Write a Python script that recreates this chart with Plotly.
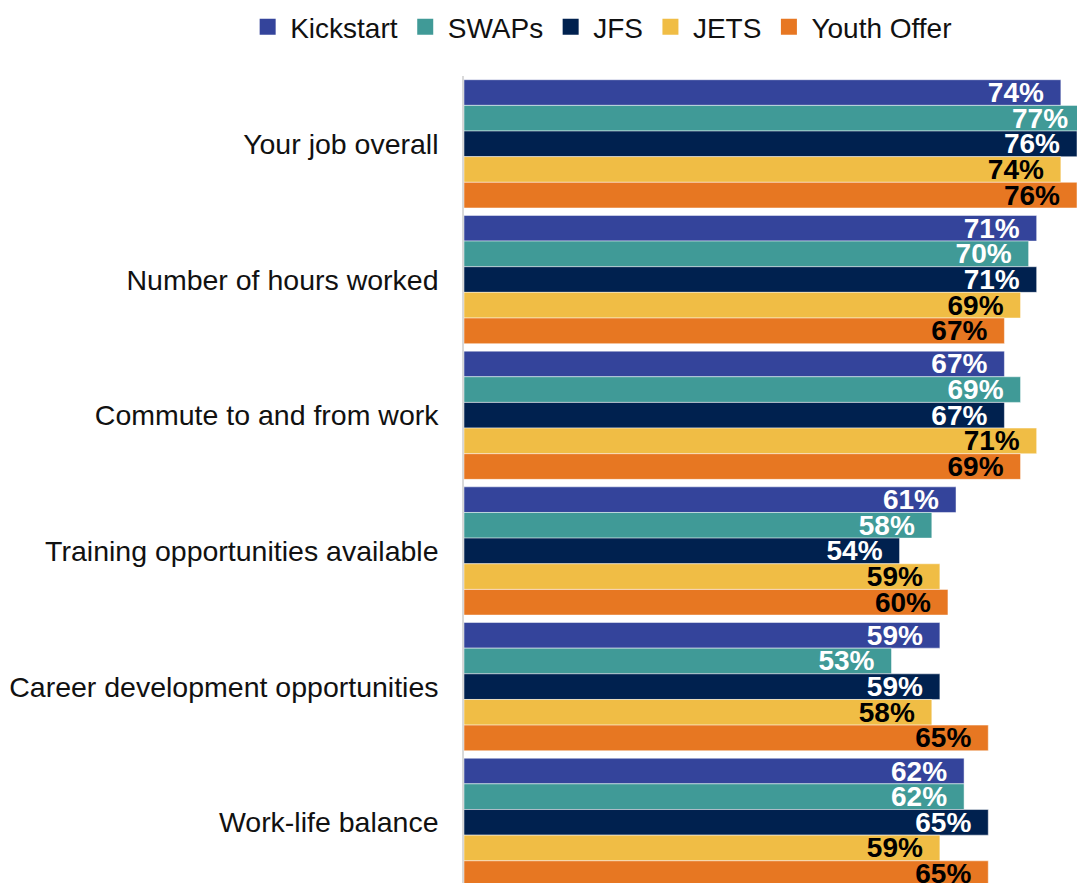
import plotly.graph_objects as go

categories = ["Your job overall", "Number of hours worked", "Commute to and from work",
              "Training opportunities available", "Career development opportunities",
              "Work-life balance"]
series_names = ["Kickstart", "SWAPs", "JFS", "JETS", "Youth Offer"]
kickstart = [74, 71, 67, 61, 59, 62]
swaps = [77, 70, 69, 58, 53, 62]
jfs = [76, 71, 67, 54, 59, 65]
jets = [74, 69, 71, 59, 58, 59]
youth_offer = [76, 67, 69, 60, 65, 65]

series_values = [kickstart, swaps, jfs, jets, youth_offer]
colors = ["#34449B", "#409A97", "#00214F", "#F0BD45", "#E77722"]
text_colors = ["white", "white", "white", "black", "black"]

fig = go.Figure()
for name, vals, col, tcol in zip(series_names, series_values, colors, text_colors):
    fig.add_trace(go.Bar(
        name=name, y=categories, x=vals, orientation="h",
        marker=dict(color=col, line=dict(color="rgba(255,255,255,0.6)", width=0.8)),
        text=[f"{v}%\u2002" for v in vals],
        textposition="inside", insidetextanchor="end", textangle=0,
        constraintext="none",
        textfont=dict(family="Liberation Sans, Arial, sans-serif", size=28,
                      color=tcol, weight="bold"),
        hoverinfo="skip", showlegend=False, legendgroup=name,
    ))

# legend entries with larger square swatches
for name, col in zip(series_names, colors):
    fig.add_trace(go.Scatter(
        name=name, x=[None], y=[None], mode="markers",
        marker=dict(symbol="square", size=16, color=col),
        showlegend=True, legendgroup=name, hoverinfo="skip",
    ))

fig.update_layout(
    width=1077, height=883,
    margin=dict(l=464, r=0, t=76, b=0, pad=0),
    barmode="group", bargap=0.055, bargroupgap=0,
    plot_bgcolor="white", paper_bgcolor="white",
    font=dict(family="Liberation Sans, Arial, sans-serif", size=28, color="#111111"),
    legend=dict(orientation="h", xref="paper", yref="paper",
                x=-0.357, xanchor="left", y=1.0607, yanchor="middle",
                font=dict(size=28, color="#111111"), traceorder="normal",
                itemwidth=35, itemsizing="trace"),
    showlegend=True,
)
fig.update_xaxes(range=[0, 76.0], visible=False, showgrid=False, zeroline=False)
fig.update_yaxes(range=[5.447, -0.5], showline=True, linecolor="#D9D9D9", linewidth=1.5,
                 ticks="", ticklabelstandoff=18, showgrid=False,
                 tickfont=dict(size=28.5, color="#111111"))

fig.write_html("out.html")
